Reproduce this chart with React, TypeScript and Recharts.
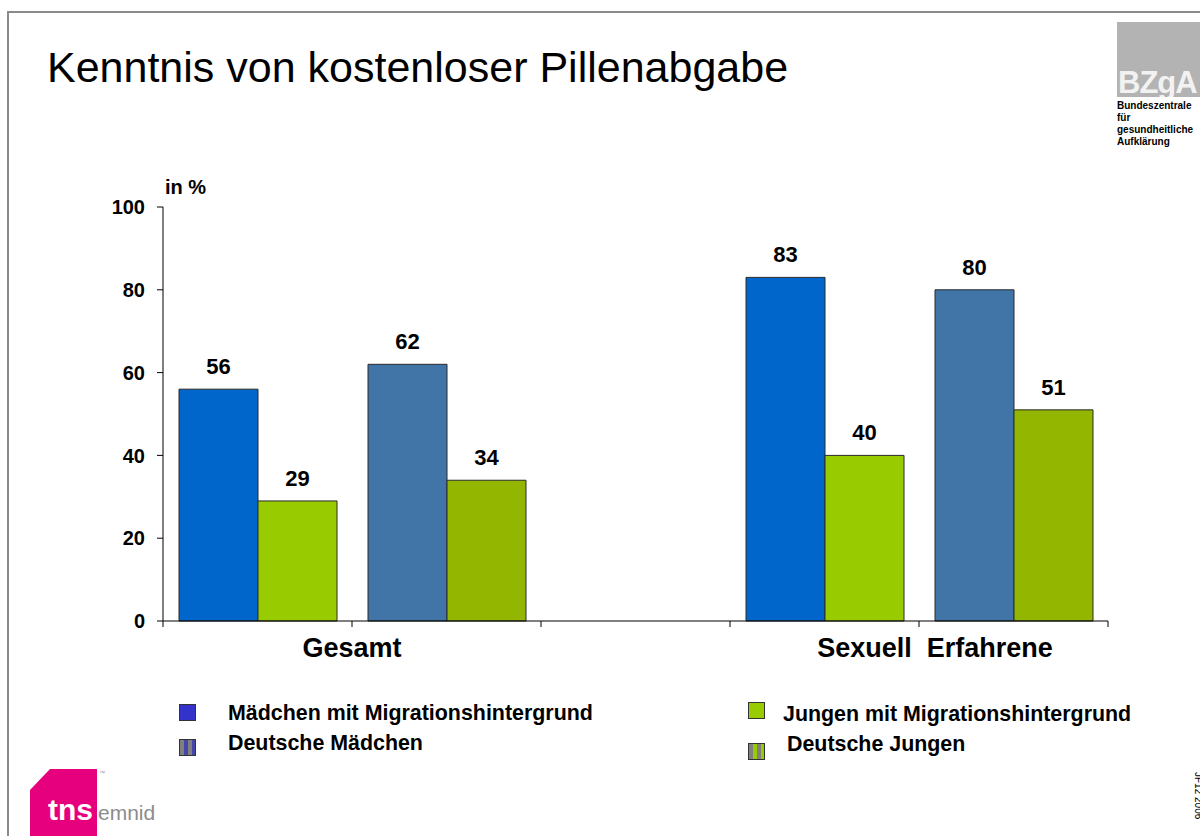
import React from "react";
import { BarChart, Bar, XAxis, YAxis, Cell, LabelList } from "recharts";

// five bands on the axis: two per group and an empty one between them
const categories = [
  "Gesamt – Migration",
  "Gesamt – Deutsch",
  "",
  "Sexuell Erfahrene – Migration",
  "Sexuell Erfahrene – Deutsch",
];
const girls = [56, 62, null, 83, 80];
const boys = [29, 34, null, 40, 51];
// group label drawn at the right edge of the band with this index
const groupLabels = ["Gesamt", "", "", "Sexuell  Erfahrene", ""];
const yTicks = [0, 20, 40, 60, 80, 100];

const girlColors = ["#0066CC", "#4174A7", "#0066CC", "#0066CC", "#4174A7"];
const boyColors = ["#99CC00", "#93B600", "#99CC00", "#99CC00", "#93B600"];

const data = categories.map((c, i) => ({
  name: c,
  girls: girls[i],
  boys: boys[i],
}));

const FONT = "Arial, 'Liberation Sans', sans-serif";

const BandTick = (props: any) => {
  const { x, y, payload } = props;
  const idx = payload.index ?? categories.indexOf(payload.value);
  const off = payload.offset || 94.5;
  const label = groupLabels[idx] || "";
  const last = idx === categories.length - 1;
  // second group label sits a bit right of its tick in the original
  const dx = idx === 3 ? 16 : 0;
  return (
    <g>
      <line x1={x - off} x2={x - off} y1={y} y2={y + 6} stroke="#000" />
      {last && <line x1={x + off} x2={x + off} y1={y} y2={y + 6} stroke="#000" />}
      {label && (
        <text
          x={x + off + dx}
          y={y + 36}
          textAnchor="middle"
          fontFamily={FONT}
          fontWeight="bold"
          fontSize={27}
          fill="#000"
          style={{ whiteSpace: "pre" }}
        >
          {label}
        </text>
      )}
    </g>
  );
};

const ValueLabel = (props: any) => {
  const { x, y, width, value } = props;
  if (value === null || value === undefined) return null;
  return (
    <text
      x={x + width / 2}
      y={y - 15}
      textAnchor="middle"
      fontFamily={FONT}
      fontWeight="bold"
      fontSize={22}
      fill="#000"
    >
      {value}
    </text>
  );
};

const legendItems = [
  { label: "Mädchen mit Migrationshintergrund", bg: "#3333CC", x: 179, y: 704, tx: 228, ty: 701 },
  {
    label: "Deutsche Mädchen",
    bg: "repeating-linear-gradient(90deg, #808080 0px, #808080 4px, #4646A8 4px, #4646A8 8px)",
    x: 179,
    y: 739,
    tx: 228,
    ty: 731,
  },
  { label: "Jungen mit Migrationshintergrund", bg: "#99CC00", x: 748, y: 702, tx: 783, ty: 702 },
  {
    label: "Deutsche Jungen",
    bg: "repeating-linear-gradient(90deg, #808080 0px, #808080 4px, #99CC00 4px, #99CC00 8px)",
    x: 748,
    y: 743,
    tx: 787,
    ty: 732,
  },
];

export default function App() {
  return (
    <div
      style={{
        position: "absolute",
        left: 0,
        top: 0,
        width: 1200,
        height: 836,
        overflow: "hidden",
        background: "#fff",
        fontFamily: FONT,
      }}
    >
      {/* slide frame */}
      <div
        style={{
          position: "absolute",
          left: 7,
          top: 11,
          width: 1300,
          height: 900,
          borderTop: "2px solid #8a8a8a",
          borderLeft: "2px solid #8a8a8a",
        }}
      />

      <div
        style={{
          position: "absolute",
          left: 47,
          top: 43,
          fontSize: 43,
          lineHeight: "48px",
          color: "#000",
          whiteSpace: "nowrap",
        }}
      >
        Kenntnis von kostenloser Pillenabgabe
      </div>

      {/* BZgA logo */}
      <div
        style={{
          position: "absolute",
          left: 1117,
          top: 22,
          width: 100,
          height: 75,
          background: "#b3b3b3",
          overflow: "hidden",
        }}
      >
        <div
          style={{
            position: "absolute",
            left: 1,
            top: 47,
            fontSize: 31,
            lineHeight: "28px",
            fontWeight: "bold",
            color: "#f2f2f2",
            letterSpacing: -1,
          }}
        >
          BZgA
        </div>
      </div>
      <div
        style={{
          position: "absolute",
          left: 1117,
          top: 100,
          fontSize: 10,
          lineHeight: "12px",
          fontWeight: "bold",
          color: "#000",
          whiteSpace: "nowrap",
        }}
      >
        Bundeszentrale
        <br />
        für
        <br />
        gesundheitliche
        <br />
        Aufklärung
      </div>

      <div
        style={{
          position: "absolute",
          left: 165,
          top: 175,
          fontSize: 20,
          fontWeight: "bold",
          lineHeight: "24px",
        }}
      >
        in %
      </div>

      <div style={{ position: "absolute", left: 0, top: 0 }}>
        <BarChart
          width={1200}
          height={836}
          data={data}
          margin={{ top: 207, right: 92, bottom: 155, left: 103 }}
          barCategoryGap={16}
          barGap={0}
        >
          <XAxis
            dataKey="name"
            height={60}
            interval={0}
            tickLine={false}
            tickSize={0}
            tickMargin={0}
            stroke="#000"
            tick={<BandTick />}
          />
          <YAxis
            domain={[0, 100]}
            ticks={yTicks}
            width={60}
            tickSize={6}
            tickMargin={12}
            stroke="#000"
            tick={{ fill: "#000", fontSize: 20, fontWeight: "bold", fontFamily: FONT }}
          />
          <Bar dataKey="girls" stroke="#2a2a2a" strokeWidth={1} isAnimationActive={false}>
            {data.map((d, i) => (
              <Cell key={d.name + i} fill={girlColors[i]} />
            ))}
            <LabelList dataKey="girls" content={<ValueLabel />} />
          </Bar>
          <Bar dataKey="boys" stroke="#2a2a2a" strokeWidth={1} isAnimationActive={false}>
            {data.map((d, i) => (
              <Cell key={d.name + i} fill={boyColors[i]} />
            ))}
            <LabelList dataKey="boys" content={<ValueLabel />} />
          </Bar>
        </BarChart>
      </div>

      {/* legend */}
      {legendItems.map((it) => (
        <React.Fragment key={it.label}>
          <div
            style={{
              position: "absolute",
              left: it.x,
              top: it.y,
              width: 15,
              height: 15,
              background: it.bg,
              border: "1px solid #333",
            }}
          />
          <div
            style={{
              position: "absolute",
              left: it.tx,
              top: it.ty,
              fontSize: 21.4,
              fontWeight: "bold",
              lineHeight: "24px",
              whiteSpace: "nowrap",
              color: "#000",
            }}
          >
            {it.label}
          </div>
        </React.Fragment>
      ))}

      {/* tns emnid logo */}
      <svg style={{ position: "absolute", left: 0, top: 760 }} width={200} height={76}>
        <polygon points="30,30 50,9 97,9 97,76 30,76" fill="#E6007E" />
        <text x={48} y={60} fontFamily={FONT} fontWeight="bold" fontSize={30} fill="#fff">
          tns
        </text>
        <text x={98} y={60} fontFamily={FONT} fontSize={21} fill="#8c8c8c">
          emnid
        </text>
        <text x={99} y={15} fontFamily={FONT} fontSize={6} fill="#999">
          ™
        </text>
      </svg>

      <div
        style={{
          position: "absolute",
          left: 1204,
          top: 772,
          fontSize: 10,
          whiteSpace: "nowrap",
          transform: "rotate(90deg)",
          transformOrigin: "0 0",
          color: "#000",
        }}
      >
        JF12 2006
      </div>
    </div>
  );
}
